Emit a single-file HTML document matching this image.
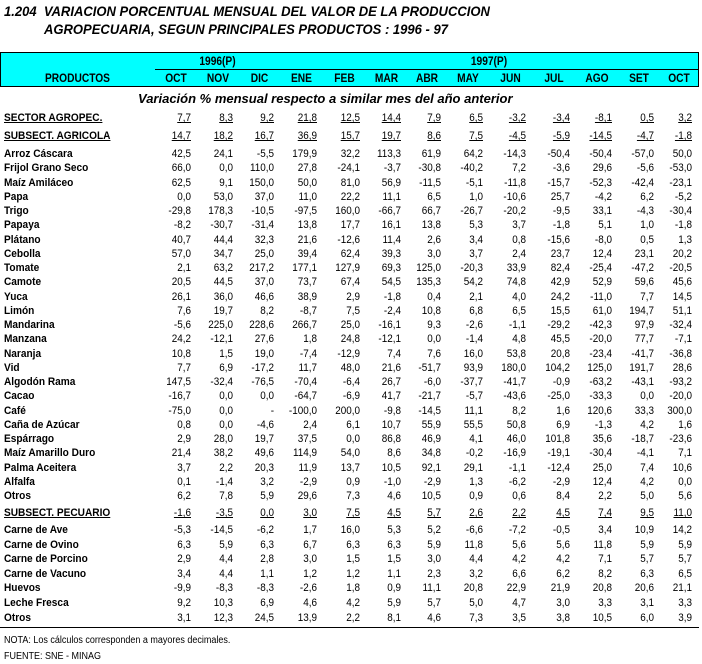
<!DOCTYPE html>
<html><head><meta charset="utf-8"><style>
body{margin:0;width:702px;height:664px;background:#fff;position:relative;overflow:hidden;font-family:"Liberation Sans",Arial,sans-serif;color:#000}
.a{position:absolute;white-space:nowrap}
.t{font-weight:bold;font-style:italic;font-size:14px;transform:scaleX(0.93);transform-origin:0 0}
.n{font-size:11px;text-align:right;transform:scaleX(0.9);transform-origin:100% 0}
.p{font-size:11px;font-weight:bold;transform:scaleX(0.92);transform-origin:0 0}
.h{font-size:12px;font-weight:bold;text-align:center;transform:scaleX(0.85)}
</style></head><body>
<div class="a t" style="left:4px;top:3px">1.204&nbsp; VARIACION PORCENTUAL MENSUAL DEL VALOR DE LA PRODUCCION</div>
<div class="a t" style="left:44px;top:21px">AGROPECUARIA, SEGUN PRINCIPALES PRODUCTOS : 1996 - 97</div>
<div id="hdr" class="a" style="left:0;top:52px;width:697px;height:33px;background:#00ffff;border:1px solid #000"></div>
<div class="a t" style="left:138px;top:91px;font-size:13px;transform:scaleX(1)">Variación % mensual respecto a similar mes del año anterior</div>
<div class="a" style="left:0;top:627px;width:699px;height:1px;background:#000"></div>
<div class="a" style="left:4px;top:635px;font-size:10px;transform:scaleX(0.9);transform-origin:0 0">NOTA: Los cálculos corresponden a mayores decimales.</div>
<div class="a" style="left:4px;top:651px;font-size:10px;transform:scaleX(0.9);transform-origin:0 0">FUENTE: SNE - MINAG</div>
<script>
var R=[155,197,239,280,323,366,407,447,489,532,576,618,660,698];
var M=["OCT","NOV","DIC","ENE","FEB","MAR","ABR","MAY","JUN","JUL","AGO","SET","OCT"];
var b=document.body,h='';
function d(s){h+=s}
d('<div class="a" style="left:155px;top:69px;width:543px;height:1px;background:#000"></div>');
for(var i=0;i<R.length-1;i++){
 var x=R[i];var top=(i==0||i==3)?52:69;var w=(i==3)?3:1;
 d('<div class="a" style="left:'+(x-(w>1?1:0))+'px;top:'+top+'px;width:'+w+'px;height:'+(86-top)+'px;background:#000"></div>');
 d('<div class="a h" style="left:'+R[i]+'px;width:'+(R[i+1]-R[i])+'px;top:71px">'+M[i]+'</div>');
}
d('<div class="a h" style="left:0;width:155px;top:71px">PRODUCTOS</div>');
d('<div class="a h" style="left:155px;width:125px;top:54px">1996(P)</div>');
d('<div class="a h" style="left:280px;width:418px;top:54px">1997(P)</div>');
var rows=[
[112,"SECTOR AGROPEC.",1,"7,7 8,3 9,2 21,8 12,5 14,4 7,9 6,5 -3,2 -3,4 -8,1 0,5 3,2"],
[130,"SUBSECT. AGRICOLA",1,"14,7 18,2 16,7 36,9 15,7 19,7 8,6 7,5 -4,5 -5,9 -14,5 -4,7 -1,8"]];
var ag=[
["Arroz Cáscara","42,5 24,1 -5,5 179,9 32,2 113,3 61,9 64,2 -14,3 -50,4 -50,4 -57,0 50,0"],
["Frijol Grano Seco","66,0 0,0 110,0 27,8 -24,1 -3,7 -30,8 -40,2 7,2 -3,6 29,6 -5,6 -53,0"],
["Maíz Amiláceo","62,5 9,1 150,0 50,0 81,0 56,9 -11,5 -5,1 -11,8 -15,7 -52,3 -42,4 -23,1"],
["Papa","0,0 53,0 37,0 11,0 22,2 11,1 6,5 1,0 -10,6 25,7 -4,2 6,2 -5,2"],
["Trigo","-29,8 178,3 -10,5 -97,5 160,0 -66,7 66,7 -26,7 -20,2 -9,5 33,1 -4,3 -30,4"],
["Papaya","-8,2 -30,7 -31,4 13,8 17,7 16,1 13,8 5,3 3,7 -1,8 5,1 1,0 -1,8"],
["Plátano","40,7 44,4 32,3 21,6 -12,6 11,4 2,6 3,4 0,8 -15,6 -8,0 0,5 1,3"],
["Cebolla","57,0 34,7 25,0 39,4 62,4 39,3 3,0 3,7 2,4 23,7 12,4 23,1 20,2"],
["Tomate","2,1 63,2 217,2 177,1 127,9 69,3 125,0 -20,3 33,9 82,4 -25,4 -47,2 -20,5"],
["Camote","20,5 44,5 37,0 73,7 67,4 54,5 135,3 54,2 74,8 42,9 52,9 59,6 45,6"],
["Yuca","26,1 36,0 46,6 38,9 2,9 -1,8 0,4 2,1 4,0 24,2 -11,0 7,7 14,5"],
["Limón","7,6 19,7 8,2 -8,7 7,5 -2,4 10,8 6,8 6,5 15,5 61,0 194,7 51,1"],
["Mandarina","-5,6 225,0 228,6 266,7 25,0 -16,1 9,3 -2,6 -1,1 -29,2 -42,3 97,9 -32,4"],
["Manzana","24,2 -12,1 27,6 1,8 24,8 -12,1 0,0 -1,4 4,8 45,5 -20,0 77,7 -7,1"],
["Naranja","10,8 1,5 19,0 -7,4 -12,9 7,4 7,6 16,0 53,8 20,8 -23,4 -41,7 -36,8"],
["Vid","7,7 6,9 -17,2 11,7 48,0 21,6 -51,7 93,9 180,0 104,2 125,0 191,7 28,6"],
["Algodón Rama","147,5 -32,4 -76,5 -70,4 -6,4 26,7 -6,0 -37,7 -41,7 -0,9 -63,2 -43,1 -93,2"],
["Cacao","-16,7 0,0 0,0 -64,7 -6,9 41,7 -21,7 -5,7 -43,6 -25,0 -33,3 0,0 -20,0"],
["Café","-75,0 0,0 - -100,0 200,0 -9,8 -14,5 11,1 8,2 1,6 120,6 33,3 300,0"],
["Caña de Azúcar","0,8 0,0 -4,6 2,4 6,1 10,7 55,9 55,5 50,8 6,9 -1,3 4,2 1,6"],
["Espárrago","2,9 28,0 19,7 37,5 0,0 86,8 46,9 4,1 46,0 101,8 35,6 -18,7 -23,6"],
["Maíz Amarillo Duro","21,4 38,2 49,6 114,9 54,0 8,6 34,8 -0,2 -16,9 -19,1 -30,4 -4,1 7,1"],
["Palma Aceitera","3,7 2,2 20,3 11,9 13,7 10,5 92,1 29,1 -1,1 -12,4 25,0 7,4 10,6"],
["Alfalfa","0,1 -1,4 3,2 -2,9 0,9 -1,0 -2,9 1,3 -6,2 -2,9 12,4 4,2 0,0"],
["Otros","6,2 7,8 5,9 29,6 7,3 4,6 10,5 0,9 0,6 8,4 2,2 5,0 5,6"]];
for(var i=0;i<ag.length;i++)rows.push([148+i*14.25,ag[i][0],0,ag[i][1]]);
rows.push([507,"SUBSECT. PECUARIO",1,"-1,6 -3,5 0,0 3,0 7,5 4,5 5,7 2,6 2,2 4,5 7,4 9,5 11,0"]);
var pe=[
["Carne de Ave","-5,3 -14,5 -6,2 1,7 16,0 5,3 5,2 -6,6 -7,2 -0,5 3,4 10,9 14,2"],
["Carne de Ovino","6,3 5,9 6,3 6,7 6,3 6,3 5,9 11,8 5,6 5,6 11,8 5,9 5,9"],
["Carne de Porcino","2,9 4,4 2,8 3,0 1,5 1,5 3,0 4,4 4,2 4,2 7,1 5,7 5,7"],
["Carne de Vacuno","3,4 4,4 1,1 1,2 1,2 1,1 2,3 3,2 6,6 6,2 8,2 6,3 6,5"],
["Huevos","-9,9 -8,3 -8,3 -2,6 1,8 0,9 11,1 20,8 22,9 21,9 20,8 20,6 21,1"],
["Leche Fresca","9,2 10,3 6,9 4,6 4,2 5,9 5,7 5,0 4,7 3,0 3,3 3,1 3,3"],
["Otros","3,1 12,3 24,5 13,9 2,2 8,1 4,6 7,3 3,5 3,8 10,5 6,0 3,9"]];
for(var i=0;i<pe.length;i++)rows.push([524+i*14.6,pe[i][0],0,pe[i][1]]);
rows.forEach(function(r){
 var u=r[2]?'text-decoration:underline;':'';
 d('<div class="a p" style="left:4px;top:'+r[0]+'px;'+u+'">'+r[1]+'</div>');
 r[3].split(' ').forEach(function(v,j){
  d('<div class="a n" style="left:'+(R[j]-2)+'px;width:'+(R[j+1]-R[j]-4)+'px;top:'+r[0]+'px;'+u+'">'+v+'</div>');
 });
});
b.insertAdjacentHTML('beforeend',h);
</script>
</body></html>
